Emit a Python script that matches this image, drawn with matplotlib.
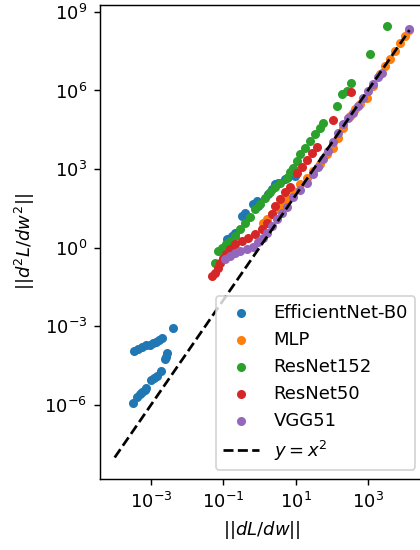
import numpy as np
import matplotlib
matplotlib.use("Agg")
import matplotlib.pyplot as plt
from matplotlib.ticker import NullLocator

# values, as log10 of ||dL/dw|| and ||d2L/dw2||
effnet_logx = [-2.39, -3.47, -3.36, -3.25, -3.14, -3.03, -2.94, -2.86, -2.78, -2.70,
               -2.56, -2.59, -2.61,
               -3.50, -3.39, -3.30, -3.25, -3.17, -3.14, -3.00, -2.92, -2.83, -2.72,
               -0.90, -0.76, -0.68, -0.49, -0.40, -0.35, -0.18, -0.07, -0.04, 0.23,
               0.34, 0.43, 0.51, 0.70, 0.78, 0.98]
effnet_logy = [-3.05, -3.93, -3.85, -3.78, -3.70, -3.70, -3.63, -3.59, -3.51, -3.44,
               -4.01, -4.16, -4.24,
               -5.92, -5.69, -5.57, -5.50, -5.42, -5.34, -5.04, -4.96, -4.89, -4.69,
               0.34, 0.46, 0.57, 1.22, 1.34, 1.15, 1.68, 1.79, 1.60, 2.06,
               2.25, 2.44, 2.48, 2.63, 2.71, 2.75]

mlp_logx = [0.09, 0.20, 0.34, 0.48, 0.62, 0.76, 0.92, 1.12, 1.31, 1.48, 1.67, 1.86,
            2.03, 2.17, 2.30, 2.50, 2.64, 2.77, 2.97, 3.13, 3.33, 3.46, 3.60, 3.74,
            3.88, 4.02, 4.15]
mlp_logy = [0.95, 1.11, 1.30, 1.49, 1.68, 1.87, 2.18, 2.44, 2.67, 2.94, 3.21, 3.59,
            3.82, 4.20, 4.58, 5.04, 5.31, 5.50, 5.73, 6.18, 6.64, 6.95, 7.21, 7.52,
            7.82, 8.09, 8.32]

resnet152_logx = [-1.23, -1.15, -1.04, -0.93, -0.82, -0.68, -0.54, -0.40, -0.27, -0.13,
                  0.01, 0.15, 0.29, 0.43, 0.56, 0.76, 0.84, 0.92, 1.03, 1.12, 1.25,
                  1.39, 1.53, 1.67, 1.75, 2.14, 2.28, 2.41, 2.52, 3.05, 3.52]
resnet152_logy = [-0.57, -0.11, 0.00, 0.15, 0.27, 0.46, 0.73, 0.95, 1.18, 1.49,
                  1.68, 1.91, 2.14, 2.33, 2.48, 2.67, 2.90, 3.05, 3.32, 3.59, 3.82,
                  4.08, 4.35, 4.58, 4.77, 5.42, 5.88, 5.99, 6.30, 7.40, 8.44]

resnet50_logx = [-1.31, -1.23, -1.15, -1.09, -1.01, -0.93, -0.82, -0.68, -0.49, -0.32,
                 -0.13, 0.07, 0.20, 0.34, 0.43, 0.56, 0.70, 0.84, 1.03, 1.17, 1.31,
                 1.45, 1.59, 2.03, 2.52]
resnet50_logy = [-1.07, -0.95, -0.76, -0.57, -0.38, -0.23, -0.04, 0.15, 0.27, 0.38,
                 0.53, 0.73, 0.95, 1.30, 1.60, 1.87, 2.14, 2.33, 2.86, 3.09, 3.36,
                 3.63, 3.85, 4.89, 5.95]

vgg_logx = [-0.96, -0.82, -0.68, -0.54, -0.35, -0.18, -0.04, 0.09, 0.20, 0.34, 0.48,
            0.62, 0.76, 0.92, 1.12, 1.31, 1.48, 1.61, 1.75, 1.89, 2.03, 2.17, 2.30,
            2.44, 2.58, 2.72, 2.86, 2.99, 3.13, 3.27, 3.38, 4.15]
vgg_logy = [-0.42, -0.31, -0.19, -0.11, -0.04, 0.04, 0.23, 0.38, 0.57, 0.84, 1.11,
            1.34, 1.56, 1.95, 2.21, 2.48, 2.82, 3.09, 3.40, 3.70, 4.05, 4.39, 4.73,
            4.96, 5.15, 5.42, 5.73, 5.99, 6.26, 6.53, 6.68, 8.36]

models = ["EfficientNet-B0", "MLP", "ResNet152", "ResNet50", "VGG51"]
series = [(effnet_logx, effnet_logy), (mlp_logx, mlp_logy),
          (resnet152_logx, resnet152_logy), (resnet50_logx, resnet50_logy),
          (vgg_logx, vgg_logy)]

x_ticks = [1e-3, 1e-1, 1e1, 1e3]
y_ticks = [1e-6, 1e-3, 1e0, 1e3, 1e6, 1e9]

# drawn at 130 dpi so default sizes match the original render
fig = plt.figure(figsize=(420 / 130, 550 / 130), dpi=130)
ax = fig.add_axes([0.238, 0.129, 0.772, 0.862])

for name, (lx, ly) in zip(models, series):
    ax.scatter(10 ** np.array(lx), 10 ** np.array(ly), s=16, label=name)

# reference line y = x^2 over the data range
x_max = max(max(lx) for lx, _ in series)
line_x = np.logspace(-4, x_max, 50)
ax.plot(line_x, line_x ** 2, "k--", label="$y = x^2$")

ax.set_xscale("log")
ax.set_yscale("log")
ax.set_xticks(x_ticks)
ax.set_yticks(y_ticks)
ax.xaxis.set_minor_locator(NullLocator())
ax.yaxis.set_minor_locator(NullLocator())
ax.set_xlabel("$||dL/dw||$")
ax.set_ylabel("$||d^2L/dw^2||$")
ax.legend(loc="lower right")

fig.savefig("out.png", dpi=130)
